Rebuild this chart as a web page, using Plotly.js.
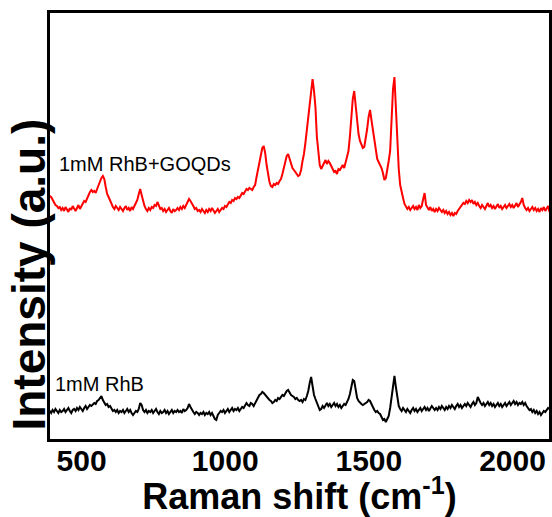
<!DOCTYPE html>
<html>
<head>
<meta charset="utf-8">
<script src="https://cdn.plot.ly/plotly-3.0.1.min.js"></script>
<style>
  html, body { margin: 0; padding: 0; background: #fff; }
  #chart { width: 552px; height: 517px; }
</style>
</head>
<body>
<div id="chart"></div>
<script>
// Raman spectra sampled every 5 cm-1 starting at 384 cm-1 (x0 / dx below)
const shiftStart = 384;
const shiftStep = 5;

// 1mM RhB + GOQDs (offset spectrum, a.u.)
const rhbGoqds = [
  244,245,244,241,239,236,235,233,234,231,
  233,230,234,232,229,233,231,235,232,230,
  233,236,232,235,237,240,239,243,247,249,
  251,249,250,248,252,256,260,263,265,262,
  254,247,244,240,236,234,232,235,233,231,
  234,232,230,233,235,231,233,230,234,232,
  235,237,241,247,252,246,239,235,232,230,
  233,231,234,233,236,235,239,236,232,233,
  230,232,229,231,233,230,228,232,230,231,
  233,231,234,232,235,233,236,238,242,240,
  238,235,232,233,230,231,229,232,230,228,
  231,229,232,230,233,231,228,230,232,229,
  231,233,232,235,234,237,239,238,241,240,
  243,242,244,243,246,248,247,250,252,251,
  253,252,251,254,256,264,271,280,288,293,
  295,288,276,266,259,255,254,257,256,258,
  257,260,262,267,274,281,285,287,282,277,
  273,271,269,267,265,266,271,280,287,298,
  311,326,340,353,362,350,334,304,287,276,
  272,275,279,281,277,280,278,274,272,269,
  270,267,272,271,274,276,273,278,283,290,
  305,325,342,350,334,316,307,300,296,293,
  294,302,312,324,331,321,311,298,288,282,
  279,276,273,268,261,263,270,280,290,325,
  352,364,330,295,272,256,248,243,237,235,
  232,234,231,233,235,232,234,231,236,233,
  235,242,248,236,233,231,234,230,232,229,
  232,230,233,231,229,231,228,230,227,229,
  226,228,225,228,227,230,232,234,236,238,
  237,240,238,241,239,241,237,239,236,238,
  235,233,236,234,232,235,238,234,236,233,
  235,232,234,237,233,235,232,234,236,233,
  235,237,234,236,233,235,238,234,236,239,
  243,236,233,231,233,230,232,234,231,233,
  230,232,229,233,231,234,230,232,235,229,
  231
];

// 1mM RhB (a.u.)
const rhb = [
  31,30,28,31,29,32,30,28,31,29,
  30,32,29,31,33,30,28,31,32,30,
  33,31,34,32,30,33,35,32,34,36,
  35,37,38,37,40,41,43,45,41,38,
  36,37,34,35,32,30,31,29,31,28,
  30,29,31,28,30,32,29,31,28,26,
  28,30,29,32,38,36,31,29,31,28,
  30,29,31,28,30,32,29,27,30,28,
  29,31,28,30,27,29,31,28,30,29,
  31,29,30,28,32,30,31,33,37,34,
  31,29,27,29,28,26,28,27,29,26,
  28,27,29,26,28,25,22,21,26,28,
  30,29,31,28,30,32,29,31,33,30,
  32,31,33,30,32,34,33,36,38,36,
  35,38,37,35,38,40,43,46,47,49,
  48,46,45,43,41,40,38,39,41,40,
  43,42,44,46,45,48,50,51,48,46,
  45,44,42,43,41,40,41,39,42,41,
  45,50,58,64,55,46,42,38,34,31,
  32,35,33,36,38,35,37,34,36,38,
  35,37,34,36,33,35,37,36,39,42,
  47,54,61,60,50,43,40,38,37,36,
  37,38,39,41,40,37,33,31,29,30,
  28,27,24,21,22,19,22,25,33,44,
  57,65,54,42,35,32,30,33,31,29,
  32,30,28,31,33,30,32,29,31,33,
  30,32,34,31,33,30,32,35,33,31,
  33,31,34,32,35,33,31,34,32,35,
  33,36,34,32,35,37,34,36,33,35,
  37,35,38,36,34,37,39,36,38,44,
  40,38,36,38,35,37,39,36,38,35,
  37,34,36,38,35,37,34,36,38,35,
  37,39,36,38,40,37,39,36,38,37,
  39,36,38,35,33,31,32,29,31,28,
  30,27,29,26,28,30,29,31,33,32,
  30
];

const xTicks = [500, 1000, 1500, 2000];
const seriesLabels = ['1mM RhB+GOQDs', '1mM RhB'];
const labelPos = { x: [416, 402], y: [277, 57] };

const FONT = 'Arial, "Liberation Sans", Helvetica, sans-serif';

const traces = [
  {
    type: 'scatter', mode: 'lines', name: seriesLabels[0],
    x0: shiftStart, dx: shiftStep, y: rhbGoqds,
    line: { color: '#ff0000', width: 2 }
  },
  {
    type: 'scatter', mode: 'lines', name: seriesLabels[1],
    x0: shiftStart, dx: shiftStep, y: rhb,
    line: { color: '#000000', width: 2 }
  }
];

const layout = {
  width: 552, height: 517,
  margin: { l: 50, r: 3, t: 13, b: 78 },
  paper_bgcolor: '#ffffff', plot_bgcolor: '#ffffff',
  showlegend: false,
  font: { family: FONT, color: '#000' },
  xaxis: {
    range: [390, 2127],
    tickvals: xTicks,
    ticktext: xTicks.map(String),
    ticks: '', ticklen: 0,
    ticklabelstandoff: -7,
    showgrid: false, zeroline: false,
    showline: true, mirror: true, linecolor: '#000', linewidth: 3,
    tickfont: { family: FONT, size: 30, weight: 'bold', color: '#000' },
    title: {
      text: 'Raman shift (cm<sup>-1</sup>)',
      font: { family: FONT, size: 36, weight: 'bold', color: '#000' },
      standoff: 0
    }
  },
  yaxis: {
    range: [2, 428],
    showticklabels: false,
    ticks: '',
    showgrid: false, zeroline: false,
    showline: true, mirror: true, linecolor: '#000', linewidth: 3
  },
  annotations: [
    {
      xref: 'paper', yref: 'paper', x: -0.043, y: 0.385,
      text: 'Intensity (a.u.)', textangle: -90, showarrow: false,
      xanchor: 'center', yanchor: 'middle',
      font: { family: FONT, size: 46, weight: 'bold', color: '#000' }
    },
    {
      x: labelPos.x[0], y: labelPos.y[0], xref: 'x', yref: 'y',
      text: seriesLabels[0], showarrow: false, xanchor: 'left', yanchor: 'middle',
      font: { family: FONT, size: 20, color: '#000' }
    },
    {
      x: labelPos.x[1], y: labelPos.y[1], xref: 'x', yref: 'y',
      text: seriesLabels[1], showarrow: false, xanchor: 'left', yanchor: 'middle',
      font: { family: FONT, size: 20, color: '#000' }
    }
  ]
};

Plotly.newPlot('chart', traces, layout, { displayModeBar: false, staticPlot: true });
</script>
</body>
</html>
